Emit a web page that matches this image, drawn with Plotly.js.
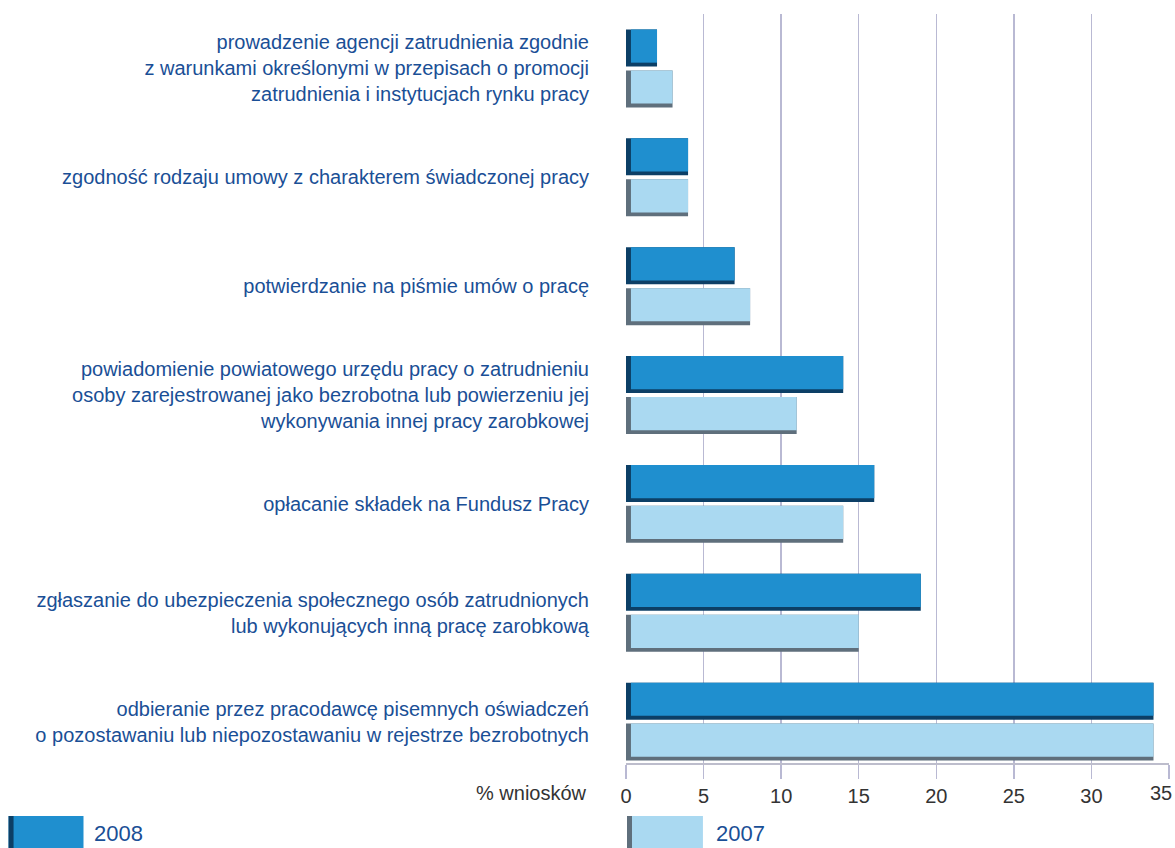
<!DOCTYPE html>
<html>
<head>
<meta charset="utf-8">
<script src="https://cdn.plot.ly/plotly-3.0.1.min.js"></script>
<style>html,body{margin:0;padding:0;background:#fff;}#chart{width:1175px;height:848px;}</style>
</head>
<body>
<div id="chart"></div>
<script>
// ---- data ----
const categories = [
  "prowadzenie agencji zatrudnienia zgodnie<br>z warunkami określonymi w przepisach o promocji<br>zatrudnienia i instytucjach rynku pracy",
  "zgodność rodzaju umowy z charakterem świadczonej pracy",
  "potwierdzanie na piśmie umów o pracę",
  "powiadomienie powiatowego urzędu pracy o zatrudnieniu<br>osoby zarejestrowanej jako bezrobotna lub powierzeniu jej<br>wykonywania innej pracy zarobkowej",
  "opłacanie składek na Fundusz Pracy",
  "zgłaszanie do ubezpieczenia społecznego osób zatrudnionych<br>lub wykonujących inną pracę zarobkową",
  "odbieranie przez pracodawcę pisemnych oświadczeń<br>o pozostawaniu lub niepozostawaniu w rejestrze bezrobotnych"
];
const values2008 = [2, 4, 7, 14, 16, 19, 34];
const values2007 = [3, 4, 8, 11, 14, 15, 34];
const seriesNames = ["2008", "2007"];
const xTickValues = [0, 5, 10, 15, 20, 25, 30, 35];
const xAxisLabel = "% wniosków";

// ---- styles ----
const W = 1175, H = 848;
const M = {l: 626, r: 5.5, t: 13.6, b: 85};
const plotW = W - M.l - M.r, plotH = H - M.t - M.b;
const textBlue = "#1a4f96";
const tickGrey = "#333333";
const col2008 = "#1f8fcf", shade2008 = "#0c3f66";
const col2007 = "#aad9f1", shade2007 = "#5f6f7c";
const EDGE = 0.32;       // width of darker left edge (x units)
const fontFam = "'Liberation Sans', Arial, Helvetica, sans-serif";

function px2paperX(px){ return (px - M.l) / plotW; }
function px2paperY(py){ return (H - M.b - py) / plotH; }

function barPair(vals, name, main, shade, offset){
  const shadowTrace = {
    type: "bar", orientation: "h", name: name, y: categories, x: vals,
    offset: offset, width: 0.34,
    marker: {color: shade, line: {width: 0}}, hoverinfo: "skip", showlegend: false
  };
  const mainTrace = {
    type: "bar", orientation: "h", name: name, y: categories,
    x: vals.map(v => v - EDGE), base: EDGE,
    offset: offset, width: 0.305,
    marker: {color: main, line: {width: 0}}, showlegend: false
  };
  return [shadowTrace, mainTrace];
}

const data = [
  ...barPair(values2008, seriesNames[0], col2008, shade2008, -0.358),
  ...barPair(values2007, seriesNames[1], col2007, shade2007, 0.018)
];

// legend swatches built as shapes
const legendItems = [
  {name: seriesNames[0], main: col2008, shade: shade2008, x0: 8, x1: 83, tx: 92},
  {name: seriesNames[1], main: col2007, shade: shade2007, x0: 627, x1: 703, tx: 714}
];
const shapes = [], annotations = [];
legendItems.forEach(it => {
  shapes.push({type: "rect", xref: "paper", yref: "paper",
    x0: px2paperX(it.x0), x1: px2paperX(it.x1), y0: px2paperY(816), y1: px2paperY(852),
    fillcolor: it.main, line: {width: 0}, layer: "above"});
  shapes.push({type: "rect", xref: "paper", yref: "paper",
    x0: px2paperX(it.x0), x1: px2paperX(it.x0 + 5), y0: px2paperY(816), y1: px2paperY(852),
    fillcolor: it.shade, line: {width: 0}, layer: "above"});
  annotations.push({xref: "paper", yref: "paper", x: px2paperX(it.tx), y: px2paperY(834),
    xanchor: "left", yanchor: "middle", showarrow: false, text: it.name,
    font: {family: fontFam, size: 22, color: textBlue}});
});
annotations.push({xref: "paper", yref: "paper", x: px2paperX(589), y: px2paperY(793),
  xanchor: "right", yanchor: "middle", showarrow: false, text: xAxisLabel,
  font: {family: fontFam, size: 20, color: tickGrey}});
// last tick label, kept inside the page edge
const lastTick = xTickValues[xTickValues.length - 1];
annotations.push({xref: "paper", yref: "paper", x: 1 + (M.r - 0.5) / plotW, y: px2paperY(793),
  xanchor: "right", yanchor: "middle", showarrow: false, text: String(lastTick),
  font: {family: fontFam, size: 20, color: tickGrey}});

const layout = {
  width: W, height: H,
  margin: M,
  paper_bgcolor: "#ffffff", plot_bgcolor: "#ffffff",
  barmode: "overlay",
  showlegend: false,
  font: {family: fontFam},
  xaxis: {
    range: [0, 35], tickvals: xTickValues,
    ticktext: xTickValues.map(v => v === lastTick ? "" : String(v)),
    showgrid: true, gridcolor: "#b9b9d3", gridwidth: 1.5,
    zeroline: false,
    showline: true, linecolor: "#bdbdcc", linewidth: 1.5,
    ticks: "outside", ticklen: 14, tickcolor: "#b9b9d3", tickwidth: 1.5,
    ticklabelstandoff: 0,
    tickfont: {family: fontFam, size: 20, color: tickGrey},
    fixedrange: true
  },
  yaxis: {
    type: "category", categoryorder: "array", categoryarray: categories,
    range: [6.38, -0.5],
    showgrid: false, zeroline: false, showline: false,
    ticks: "", ticklabelstandoff: 36,
    tickfont: {family: fontFam, size: 20, color: textBlue},
    fixedrange: true
  },
  shapes: shapes,
  annotations: annotations
};

Plotly.newPlot("chart", data, layout, {displayModeBar: false, staticPlot: true});
</script>
</body>
</html>
